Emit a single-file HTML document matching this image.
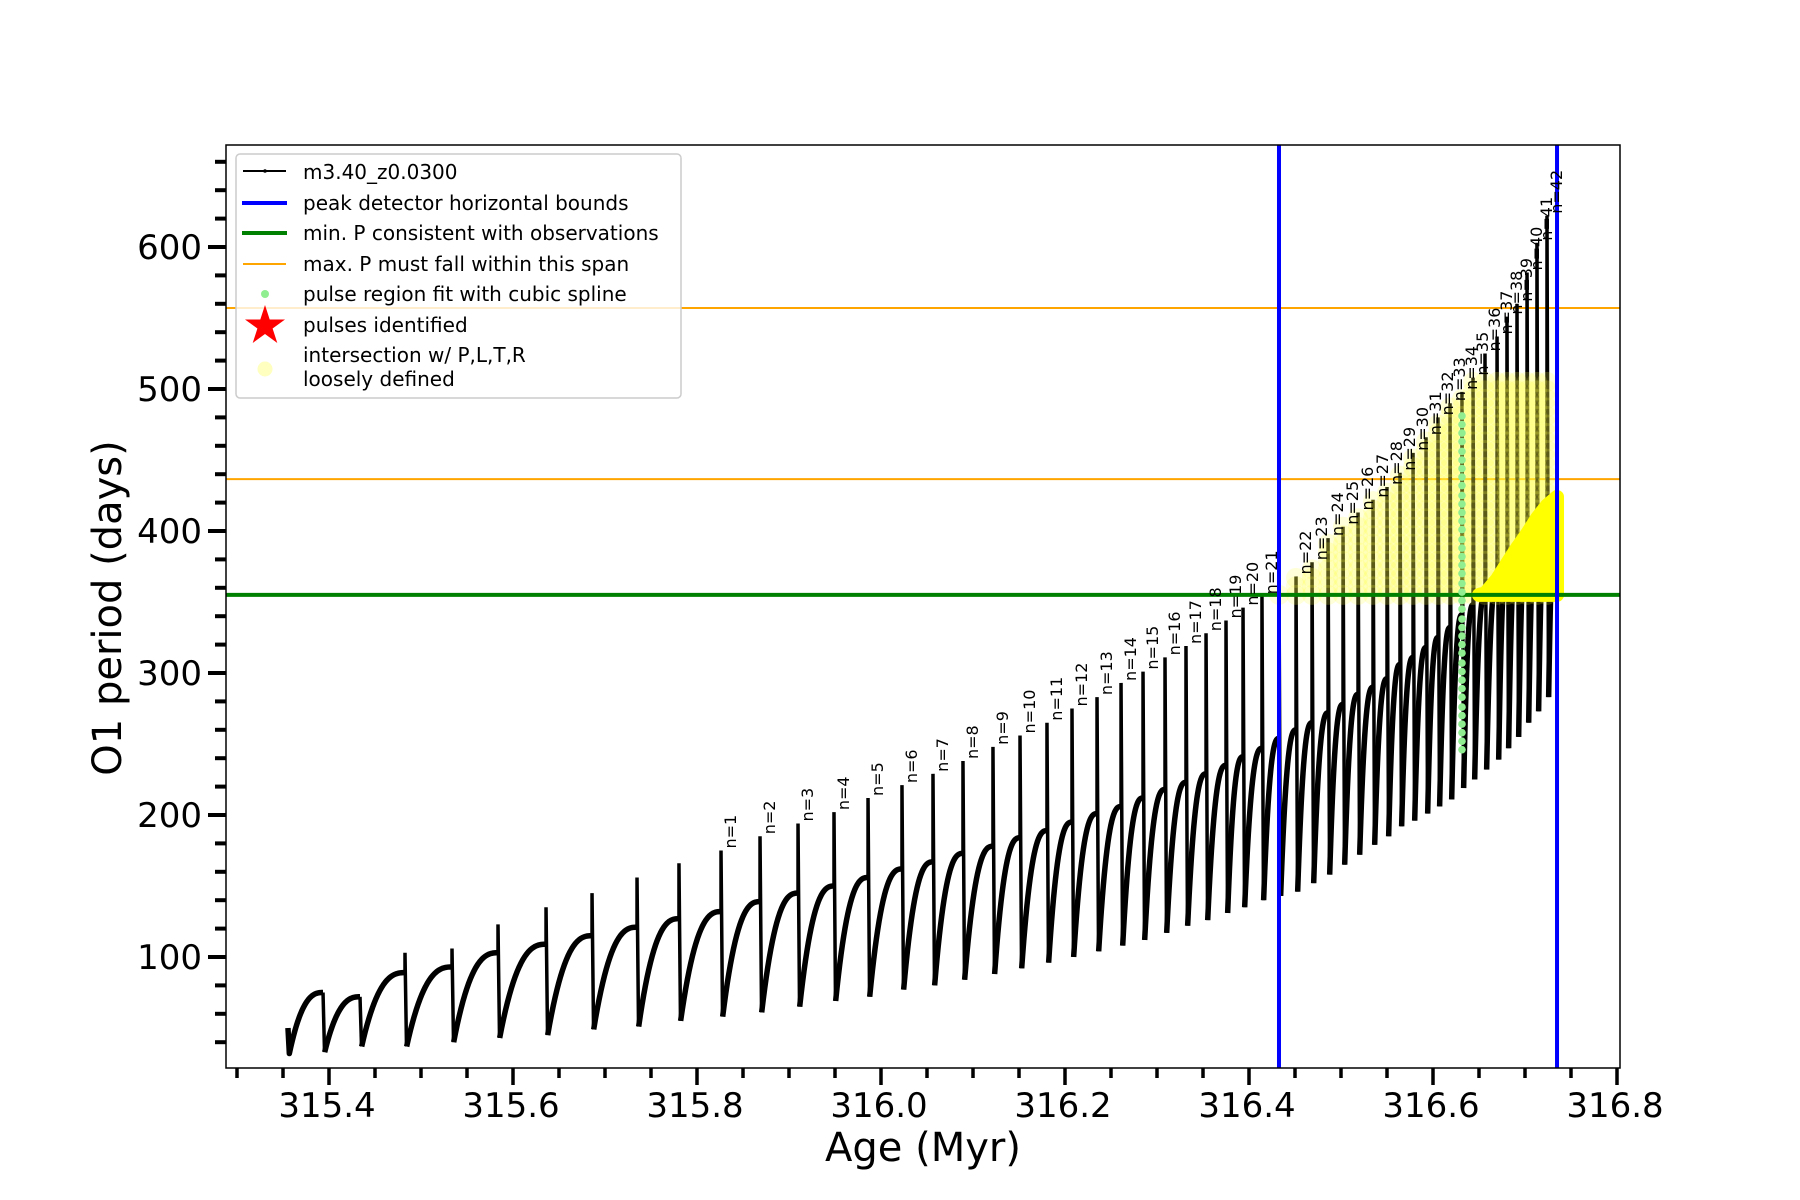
<!DOCTYPE html>
<html><head><meta charset="utf-8">
<style>
html,body{margin:0;padding:0;background:#fff;}
svg{display:block;}
text{font-family:"DejaVu Sans","Liberation Sans",sans-serif;}
</style></head>
<body>
<svg id="chart" width="1800" height="1200" viewBox="0 0 1800 1200" xmlns="http://www.w3.org/2000/svg">
  <rect x="0" y="0" width="1800" height="1200" fill="#fff"/>
  <defs><clipPath id="plotclip"><rect x="226" y="145" width="1394" height="923"/></clipPath></defs>
  <g id="plot" clip-path="url(#plotclip)"></g>
  <rect x="226" y="145" width="1394" height="923" fill="none" stroke="#000" stroke-width="1.5"/>
  <g id="axes"></g>
  <text x="923" y="1161" font-size="40" text-anchor="middle">Age (Myr)</text>
  <text x="0" y="0" font-size="40" text-anchor="middle" transform="translate(121,608) rotate(-90)">O1 period (days)</text>
  <g id="legend">
    <rect x="236" y="154" width="445" height="244" rx="4" fill="rgba(255,255,255,0.8)" stroke="#ccc" stroke-width="1.5"/>
    <g>
      <line x1="243" y1="171" x2="286" y2="171" stroke="#000" stroke-width="2"/><circle cx="265" cy="171" r="1.8" fill="#000"/>
      <text x="303" y="179" font-size="20">m3.40_z0.0300</text></g>
    <g>
      <line x1="242" y1="203" x2="287" y2="203" stroke="#0000ff" stroke-width="4"/>
      <text x="303" y="210" font-size="20">peak detector horizontal bounds</text></g>
    <g>
      <line x1="242" y1="233" x2="287" y2="233" stroke="#008000" stroke-width="4"/>
      <text x="303" y="240" font-size="20">min. P consistent with observations</text></g>
    <g>
      <line x1="243" y1="264" x2="286" y2="264" stroke="orange" stroke-width="2"/>
      <text x="303" y="271" font-size="20">max. P must fall within this span</text></g>
    <g>
      <circle cx="265" cy="294" r="4" fill="lightgreen"/>
      <text x="303" y="301" font-size="20">pulse region fit with cubic spline</text></g>
    <g>
      <polygon points="265,305 269.7,319.5 285,319.5 272.6,328.5 277.3,343 265,334 252.7,343 257.4,328.5 245,319.5 260.3,319.5" fill="red"/>
      <text x="303" y="332" font-size="20">pulses identified</text></g>
    <g>
      <circle cx="265" cy="369" r="7.5" fill="#ffffc0"/>
      <text x="303" y="362" font-size="20">intersection w/ P,L,T,R</text>
      <text x="303" y="386" font-size="20">loosely defined</text></g>
  </g>
</svg>
<script>
// ---- data ----
const startAge = 315.3554, startP = 50, startMin = 32;
const endAge = 316.7348, endP = 424;
const pulseAge = [315.3935,315.4337,315.4826,315.5337,315.5837,315.6359,315.6859,315.7348,315.7804,
 315.8261,315.8685,315.9098,315.9489,315.9859,316.0228,316.0565,316.0891,316.1217,316.1511,
 316.1804,316.2076,316.2348,316.2609,316.2848,316.3087,316.3315,316.3533,316.3750,316.3935,316.4141,
 316.4326,
 316.4511,316.4685,316.4859,316.5022,316.5185,316.5348,316.5500,316.5641,316.5783,316.5924,
 316.6054,316.6185,316.6315,316.6435,316.6565,316.6696,316.6804,316.6913,316.7022,316.7130,316.7239];
const pulsePeak = [75,72,103,106,123,135,145,156,166,
 175,185,194,202,212,221,229,238,248,256,
 265,275,283,293,301,311,319,328,337,346,354,
 360,
 368,378,395,403,413,422,431,441,455,466,
 480,490,498,508,525,537,551,560,582,603,622];
const prePlateau = [75,72,89,93,103,109,115,121,127,
 132,139,145,150,156,162,167,173,178,184,
 189,195,201,206,212,218,223,229,235,241,247,
 254,
 260,265,272,278,285,290,296,306,311,318,
 325,332,341,348,356,366,377,388,398,409,418];
const postMin = [33,37,37,40,43,45,49,51,55,
 58,61,65,69,72,77,80,84,88,92,
 96,100,104,108,112,117,122,126,131,135,140,
 143,
 146,152,158,165,172,179,185,192,196,201,
 206,211,219,225,232,239,247,255,265,273,283];
const pulseLabel = ["","","","","","","","","",
 "n=1","n=2","n=3","n=4","n=5","n=6","n=7","n=8","n=9","n=10",
 "n=11","n=12","n=13","n=14","n=15","n=16","n=17","n=18","n=19","n=20","n=21",
 "",
 "n=22","n=23","n=24","n=25","n=26","n=27","n=28","n=29","n=30","n=31",
 "n=32","n=33","n=34","n=35","n=36","n=37","n=38","n=39","n=40","n=41","n=42"];
const boundAges = [316.4326, 316.7348];
const minP = [355];
const maxPSpan = [436.5, 557];
const splineAge = [316.6315];
const splineP = [246,252,258,264,270,276,283,289,295,301,307,314,320,326,332,338,345,351,357,363,370,376,382,388,394,401,407,413,419,425,432,438,444,450,456,463,469,475,481];
const looseCap = [506];
const xTicks = [315.4,315.6,315.8,316.0,316.2,316.4,316.6,316.8];
const xTickLabels = ["315.4","315.6","315.8","316.0","316.2","316.4","316.6","316.8"];
const yTicks = [100,200,300,400,500,600];
const yTickLabels = ["100","200","300","400","500","600"];

// ---- scales ----
const X = a => 329 + (a - 315.4) * 920;
const Y = p => 1099 - p * 1.42;
const NS = "http://www.w3.org/2000/svg";
const plot = document.getElementById('plot');
const axes = document.getElementById('axes');
function mk(tag, attrs, parent){ const e=document.createElementNS(NS,tag); for(const k in attrs) e.setAttribute(k,attrs[k]); parent.appendChild(e); return e; }
function curvePts(a0,p0,a1,p1){ const pts=[]; for(let k=0;k<=24;k++){const t=k/24; const f=1-Math.pow(1-t,2.6); pts.push([X(a0+(a1-a0)*t), Y(p0+(p1-p0)*f)]);} return pts; }

maxPSpan.forEach(v=>{ const l=mk('line',{x1:226,x2:1620,y1:Y(v),y2:Y(v),stroke:'orange','stroke-width':2},plot);
  });

const gSeries = mk('g',{},plot);
 
let segs=[];
{
  let pts = curvePts(startAge+0.0015, startMin, pulseAge[0], prePlateau[0]);
  pts.unshift([X(startAge), Y(startP)]);
  segs.push(pts);
  for(let i=0;i<pulseAge.length;i++){
    const a1 = i+1<pulseAge.length ? pulseAge[i+1] : endAge;
    const p1 = i+1<pulseAge.length ? prePlateau[i+1] : endP;
    segs.push(curvePts(pulseAge[i]+0.0018, postMin[i], a1, p1));
  }
  segs.forEach(s=>{ const pl=mk('polyline',{points:s.map(p=>p.join(',')).join(' '),fill:'none',stroke:'#000','stroke-width':5.5,'stroke-linejoin':'round'},gSeries);
      });
  pulseAge.forEach((a,i)=>{
    const d=`M${X(a)},${Y(prePlateau[i])} L${X(a)},${Y(pulsePeak[i])} L${X(a)+1.5},${Y(postMin[i])}`;
    const sp=mk('path',{d:d,fill:'none',stroke:'#000','stroke-width':3.5},gSeries);
     
  });
}

const gLoose = mk('g',{},plot);
 
pulseAge.forEach((a,i)=>{
  if(pulsePeak[i] <= minP[0]) return;
  const top = Math.min(pulsePeak[i], looseCap[0]);
  for(let p=minP[0]; p<=top; p+=6){
    const c=mk('circle',{cx:X(a),cy:Y(p),r:10,fill:'#ffff40','fill-opacity':0.2},gLoose);
     
  }
});

const gSolid = mk('g',{},plot);
 
{
  const poly=[];
  pulseAge.forEach((a,i)=>{ if(prePlateau[i]>=minP[0]) poly.push([X(a),Y(prePlateau[i])]); });
  poly.push([X(endAge),Y(endP)]);
  if(poly.length){
    const first=[poly[0][0]-6,Y(minP[0])];
    const pts=[first].concat(poly).concat([[X(endAge),Y(minP[0])]]);
    const pg=mk('polygon',{points:pts.map(p=>p.join(',')).join(' '),fill:'#ffff00',stroke:'#ffff00','stroke-width':14,'stroke-linejoin':'round'},gSolid);
     
  }
}

minP.forEach(v=>{ const l=mk('line',{x1:226,x2:1620,y1:Y(v),y2:Y(v),stroke:'#008000','stroke-width':4},plot);
  });

splineP.forEach(p=>{ const c=mk('circle',{cx:X(splineAge[0]),cy:Y(p),r:3.8,fill:'lightgreen'},plot);
  });

boundAges.forEach(a=>{ const l=mk('line',{x1:X(a),x2:X(a),y1:145,y2:1068,stroke:'#0000ff','stroke-width':4},plot);
  });

pulseAge.forEach((a,i)=>{
  if(!pulseLabel[i]) return;
  const x=X(a)+15, y=Y(pulsePeak[i])-2;
  const t=mk('text',{x:0,y:0,'font-size':16,transform:`translate(${x},${y}) rotate(-90)`},plot);
  t.textContent=pulseLabel[i];
   
});

for(let k=0;k<=30;k++){
  const a=315.3+k*0.05; const x=X(a); if(x<226||x>1621) continue;
  const major = xTicks.some(v=>Math.abs(v-a)<1e-6);
  const l=mk('line',{x1:x,x2:x,y1:1068,y2:major?1085:1078,stroke:'#000','stroke-width':3.5},axes);
   
}
xTicks.forEach((v,i)=>{ const t=mk('text',{x:X(v)-2,y:1117,'font-size':34,'text-anchor':'middle'},axes);
  t.textContent=xTickLabels[i];   });
for(let v=40; v<=660; v+=20){
  const major = yTicks.indexOf(v)>=0;
  const l=mk('line',{x1:major?208:215,x2:226,y1:Y(v),y2:Y(v),stroke:'#000','stroke-width':4},axes);
   
}
yTicks.forEach((v,i)=>{ const t=mk('text',{x:202,y:Y(v)+12,'font-size':34,'text-anchor':'end'},axes);
  t.textContent=yTickLabels[i];   });
</script>
</body></html>
